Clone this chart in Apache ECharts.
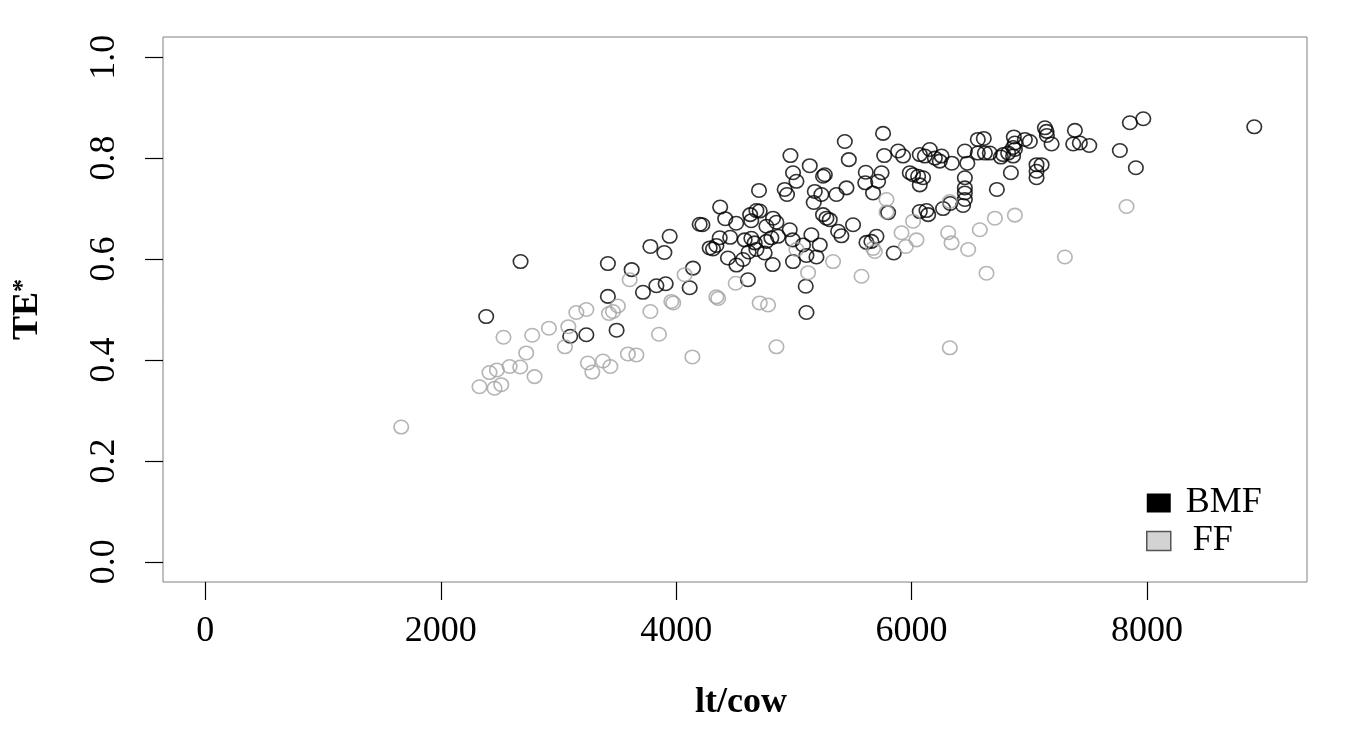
<!DOCTYPE html>
<html>
<head>
<meta charset="utf-8">
<script src="https://cdn.jsdelivr.net/npm/echarts@6.0.0/dist/echarts.min.js"></script>
<style>
  html, body { margin: 0; padding: 0; background: #fff; }
  #containergraph { width: 1358px; height: 745px; }
</style>
</head>
<body>
<div id="containergraph"></div>
<script>
// BMF group (black circles): lt/cow and TE*
let bmfX = [2386, 2678, 3100, 3237, 3494, 3420, 3420, 3622, 3718, 3781, 3832, 3911, 3900, 3945, 4115, 4143,
  4200, 4223, 4285, 4342, 4313, 4374, 4417, 4459, 4370, 4510, 4582, 4639, 4440, 4512, 4568, 4616,
  4682, 4610, 4682, 4629, 4638, 4704, 4710, 4767, 4823, 4852, 4667, 4767, 4809, 4865, 4752, 4820,
  4922, 4942, 4993, 5022, 4971, 5135, 5178, 5169, 5234, 5248, 5263, 5362, 5447, 4965, 4990, 5078,
  5149, 5220, 4993, 5107, 5192, 5101, 5107, 5248, 5277, 5305, 5376, 5404, 5503, 5617, 5659, 5702,
  5849, 5607, 5673, 5611, 5745, 5716, 5433, 5467, 5758, 5768, 5886, 5928, 6070, 6113, 6155, 6198,
  6255, 6240, 5985, 6013, 6056, 6098, 6070, 5801, 6070, 6127, 6141, 6342, 6453, 6474, 6563, 6614,
  6563, 6623, 6665, 6759, 6821, 6863, 6869, 6878, 6844, 6453, 6453, 6453, 6453, 6438, 6725, 6268,
  6329, 7969, 7855, 8912, 7388, 7374, 7430, 7510, 7770, 7906, 7133, 7147, 7150, 7190, 6963, 7005,
  6878, 6863, 6778, 7062, 7105, 7062, 7062];
let bmfY = [0.486, 0.595, 0.447, 0.450, 0.459, 0.526, 0.591, 0.579, 0.534, 0.625, 0.547, 0.551, 0.613, 0.645, 0.543, 0.582,
  0.669, 0.668, 0.622, 0.627, 0.620, 0.703, 0.680, 0.643, 0.642, 0.671, 0.638, 0.641, 0.602, 0.588, 0.599, 0.614,
  0.619, 0.559, 0.696, 0.688, 0.676, 0.736, 0.695, 0.665, 0.681, 0.673, 0.632, 0.635, 0.642, 0.645, 0.612, 0.589,
  0.738, 0.728, 0.771, 0.754, 0.805, 0.785, 0.734, 0.712, 0.728, 0.764, 0.767, 0.728, 0.741, 0.658, 0.638, 0.628,
  0.648, 0.628, 0.595, 0.607, 0.604, 0.546, 0.494, 0.688, 0.681, 0.678, 0.655, 0.646, 0.668, 0.633, 0.635, 0.645,
  0.612, 0.751, 0.731, 0.772, 0.771, 0.754, 0.833, 0.797, 0.849, 0.805, 0.814, 0.804, 0.807, 0.804, 0.817, 0.800,
  0.804, 0.794, 0.771, 0.767, 0.764, 0.761, 0.747, 0.692, 0.694, 0.696, 0.688, 0.790, 0.814, 0.790, 0.837, 0.839,
  0.810, 0.810, 0.810, 0.802, 0.810, 0.821, 0.842, 0.830, 0.771, 0.761, 0.741, 0.731, 0.718, 0.706, 0.738, 0.700,
  0.710, 0.878, 0.870, 0.862, 0.855, 0.828, 0.830, 0.825, 0.815, 0.781, 0.860, 0.853, 0.845, 0.828, 0.837, 0.833,
  0.817, 0.804, 0.807, 0.787, 0.787, 0.774, 0.761];

// FF group (grey circles)
let ffX = [1664, 2329, 2457, 2514, 2414, 2477, 2585, 2675, 2797, 2726, 2533, 2777, 2919, 3084, 3055, 3152,
  3237, 3429, 3463, 3505, 3250, 3288, 3378, 3441, 3590, 3662, 3605, 4072, 3959, 3975, 4342, 4357,
  3781, 3854, 4138, 4506, 4710, 4781, 4852, 5022, 5121, 5333, 5575, 5673, 5688, 5787, 5787, 5915,
  5951, 6042, 6013, 6325, 6311, 6340, 6481, 6580, 6708, 6878, 6637, 6325, 7303, 7827];
let ffY = [0.267, 0.347, 0.344, 0.351, 0.375, 0.380, 0.387, 0.386, 0.367, 0.414, 0.445, 0.449, 0.463, 0.466, 0.426, 0.494,
  0.500, 0.492, 0.496, 0.507, 0.394, 0.376, 0.398, 0.387, 0.412, 0.410, 0.559, 0.569, 0.516, 0.513, 0.525, 0.522,
  0.496, 0.451, 0.406, 0.552, 0.513, 0.509, 0.426, 0.619, 0.573, 0.595, 0.566, 0.621, 0.615, 0.718, 0.693, 0.652,
  0.625, 0.638, 0.675, 0.714, 0.652, 0.632, 0.619, 0.658, 0.681, 0.687, 0.572, 0.424, 0.604, 0.704];

let xTicks = [0, 2000, 4000, 6000, 8000];
let yTicks = [0, 0.2, 0.4, 0.6, 0.8, 1.0];

let dom = document.getElementById("containergraph");
let myChart = echarts.init(dom, null, { renderer: "canvas" });

const serif = "Liberation Serif";

let option = {
  animation: false,
  grid: {
    left: 163, top: 37, width: 1144, height: 545,
    show: true, borderColor: "#808080", borderWidth: 1
  },
  legend: {
    orient: "vertical",
    left: 1146, top: 485,
    padding: 0,
    itemWidth: 24, itemHeight: 19, itemGap: 2,
    inactiveColor: "#000",
    textStyle: { fontFamily: serif, fontSize: 36, color: "#000", padding: [0, 0, 0, 10] },
    data: [
      { name: "BMF", icon: "rect", itemStyle: { color: "#000", borderWidth: 0, opacity: 1 } },
      { name: "FF", icon: "rect", itemStyle: { color: "#d3d3d3", borderColor: "#555", borderWidth: 1.5, opacity: 1 },
        textStyle: { padding: [0, 0, 0, 17] } }
    ]
  },
  xAxis: {
    type: "value",
    min: -360, max: 9360,
    name: "lt/cow",
    nameLocation: "middle",
    nameGap: 103,
    nameTextStyle: { fontFamily: serif, fontSize: 36, fontWeight: "bold", color: "#000", padding: [0, 0, 0, 12] },
    splitLine: { show: false },
    axisLine: { show: false, onZero: false },
    axisTick: { show: true, inside: false, length: 18, lineStyle: { color: "#000", width: 1.2 }, customValues: xTicks },
    axisLabel: { fontFamily: serif, fontSize: 36, color: "#000", margin: 32, customValues: xTicks,
      formatter: v => String(v) }
  },
  yAxis: {
    type: "value",
    min: -0.04, max: 1.04,
    name: "{a|TE}{b|*}",
    nameLocation: "middle",
    nameGap: 117,
    nameTextStyle: {
      fontFamily: serif, fontSize: 36, fontWeight: "bold", color: "#000",
      rich: {
        a: { fontFamily: serif, fontSize: 36, fontWeight: "bold", color: "#000" },
        b: { fontFamily: serif, fontSize: 26, fontWeight: "bold", color: "#000", verticalAlign: "top", padding: [0, 0, 10, 0] }
      }
    },
    splitLine: { show: false },
    axisLine: { show: false, onZero: false },
    axisTick: { show: true, inside: false, length: 18, lineStyle: { color: "#000", width: 1.2 }, customValues: yTicks },
    axisLabel: {
      fontFamily: serif, fontSize: 36, color: "#000", margin: 40, rotate: 90,
      customValues: yTicks,
      formatter: v => v.toFixed(1)
    }
  },
  series: [
    {
      name: "BMF",
      type: "scatter",
      symbol: "circle",
      symbolSize: [14.5, 13.5],
      itemStyle: { color: "rgba(0,0,0,0)", borderColor: "#000", borderWidth: 1.6 },
      emphasis: { disabled: true },
      data: bmfX.map((x, i) => [x, bmfY[i]])
    },
    {
      name: "FF",
      type: "scatter",
      symbol: "circle",
      symbolSize: [14.5, 13.5],
      itemStyle: { color: "rgba(0,0,0,0)", borderColor: "#a3a3a3", borderWidth: 1.6 },
      emphasis: { disabled: true },
      data: ffX.map((x, i) => [x, ffY[i]])
    }
  ]
};

myChart.setOption(option);
window.addEventListener("resize", myChart.resize);
</script>
</body>
</html>
